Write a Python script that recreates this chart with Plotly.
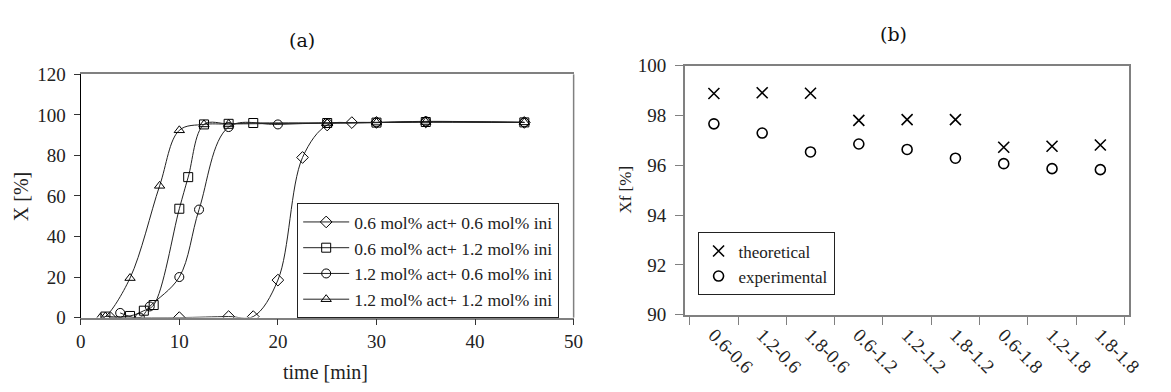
import plotly.graph_objects as go

# ---------------- data: panel (a) ----------------
names_a = ["0.6 mol% act+ 0.6 mol% ini", "0.6 mol% act+ 1.2 mol% ini",
           "1.2 mol% act+ 0.6 mol% ini", "1.2 mol% act+ 1.2 mol% ini"]
t_d = [3, 10, 15, 17.5, 20, 22.5, 25, 27.5, 30, 35, 45]
x_d = [0, 0, 0.5, 0.5, 18.5, 79, 95, 96.2, 96.3, 96.5, 96.3]
t_s = [2.5, 5, 6.4, 7.4, 10, 10.9, 12.5, 15, 17.5, 25, 30, 35, 45]
x_s = [0.5, 0.8, 3.4, 6.2, 53.7, 69.3, 95.3, 95.6, 96, 96, 96.2, 96.5, 96.3]
t_c = [4, 6, 7, 10, 12, 15, 20, 25, 30, 35, 45]
x_c = [2.3, 0, 5.5, 20, 53.3, 94, 95.3, 96, 96.3, 96.8, 96.3]
t_t = [2, 2.5, 5, 8, 10, 12.5, 15, 25, 30, 35, 45]
x_t = [0, 0.5, 19.5, 65, 92.4, 95.3, 95.5, 96, 96.2, 96.5, 96.3]
symbols_a = ["diamond-open", "square-open", "circle-open", "triangle-up-open"]

# ---------------- data: panel (b) ----------------
cats_b = ["0.6-0.6", "1.2-0.6", "1.8-0.6", "0.6-1.2", "1.2-1.2", "1.8-1.2",
          "0.6-1.8", "1.2-1.8", "1.8-1.8"]
theoretical = [98.89, 98.92, 98.9, 97.81, 97.84, 97.84, 96.73, 96.77, 96.82]
experimental = [97.67, 97.30, 96.54, 96.86, 96.64, 96.29, 96.07, 95.87, 95.83]

W, H = 1171, 392
SERIF = "Liberation Serif, Times New Roman, Times, serif"
TITLEF = "DejaVu Serif, serif"
GREY = "#808080"
TXT = "#222222"

def px(x):
    return x / W

def py(y):
    return 1 - y / H

fig = go.Figure()

series = [(t_d, x_d), (t_s, x_s), (t_c, x_c), (t_t, x_t)]
for (tx, xy), nm, sym in zip(series, names_a, symbols_a):
    fig.add_trace(go.Scatter(
        x=tx, y=xy, name=nm, mode="lines+markers",
        line=dict(color="#222222", width=1, shape="spline", smoothing=1.0),
        marker=dict(symbol=sym, size=9, color="black", line=dict(width=1, color="black")),
        xaxis="x", yaxis="y", legend="legend"))

fig.add_trace(go.Scatter(
    x=cats_b, y=theoretical, name="theoretical", mode="markers",
    marker=dict(symbol="x-thin-open", size=11, color="black", line=dict(width=1.6, color="black")),
    xaxis="x2", yaxis="y2", legend="legend2"))
fig.add_trace(go.Scatter(
    x=cats_b, y=experimental, name="experimental", mode="markers",
    marker=dict(symbol="circle-open", size=10, color="black", line=dict(width=1.6, color="black")),
    xaxis="x2", yaxis="y2", legend="legend2"))

tickfont = dict(family=SERIF, size=19, color=TXT)

fig.update_layout(
    width=W, height=H, margin=dict(l=0, r=0, t=0, b=0),
    paper_bgcolor="white", plot_bgcolor="white",
    font=dict(family=SERIF, size=17, color=TXT),
    xaxis=dict(domain=[px(77), px(578)], range=[0, 50], dtick=10, anchor="y",
               showline=True, linecolor=GREY, linewidth=1.5, mirror=True,
               ticks="outside", ticklen=6, tickcolor="#333333", showgrid=False,
               zeroline=False, tickfont=tickfont),
    yaxis=dict(domain=[py(325), py(68)], range=[0, 120], dtick=20, anchor="x",
               showline=True, linecolor="black", linewidth=1.2,
               ticks="outside", ticklen=6, tickcolor="#333333", showgrid=False,
               zeroline=False, tickfont=tickfont, ticklabelstandoff=4),
    xaxis2=dict(domain=[px(691), px(1143)], anchor="y2", type="category",
                showline=True, linecolor=GREY, linewidth=1.5, mirror=True,
                ticks="outside", ticklen=8, tickcolor=GREY, tickson="boundaries",
                tickangle=45, showgrid=False, zeroline=False,
                tickfont=dict(family=SERIF, size=19, color=TXT)),
    yaxis2=dict(domain=[py(322), py(59)], range=[90, 100], dtick=2, anchor="x2",
                showline=True, linecolor=GREY, linewidth=1.5, mirror=True,
                ticks="outside", ticklen=8, tickcolor=GREY, showgrid=False,
                zeroline=False, tickfont=tickfont, ticklabelstandoff=5),
    legend=dict(x=px(297), y=py(204), xanchor="left", yanchor="top",
                bordercolor=TXT, borderwidth=1, bgcolor="white",
                font=dict(family=SERIF, size=17.5, color=TXT),
                tracegroupgap=0, itemwidth=46),
    legend2=dict(x=px(704), y=py(235), xanchor="left", yanchor="top",
                 bordercolor=TXT, borderwidth=1, bgcolor="white",
                 font=dict(family=SERIF, size=17, color=TXT),
                 itemwidth=30),
    showlegend=True,
)

# right border of panel (a) in grey
fig.add_shape(type="line", xref="x domain", yref="y domain", x0=1, x1=1, y0=0, y1=1,
              line=dict(color=GREY, width=1.5))

annots = [
    dict(text="(a)", x=px(302), y=py(32), font=dict(family=TITLEF, size=19, color="#111111")),
    dict(text="(b)", x=px(903), y=py(25), font=dict(family=TITLEF, size=19, color="#111111")),
    dict(text="time [min]", x=px(326), y=py(382), font=dict(family=SERIF, size=20, color=TXT)),
    dict(text="X [%]", x=px(17), y=py(197), textangle=-90, font=dict(family=SERIF, size=20, color=TXT)),
    dict(text="Xf [%]", x=px(631), y=py(190), textangle=-90, font=dict(family=SERIF, size=17, color=TXT)),
]
for a in annots:
    fig.add_annotation(xref="paper", yref="paper", showarrow=False,
                       xanchor="center", yanchor="middle", **a)

fig.write_html("out.html", config={"displayModeBar": False},
               post_script="document.body.style.margin='0';document.body.style.overflow='hidden';")
